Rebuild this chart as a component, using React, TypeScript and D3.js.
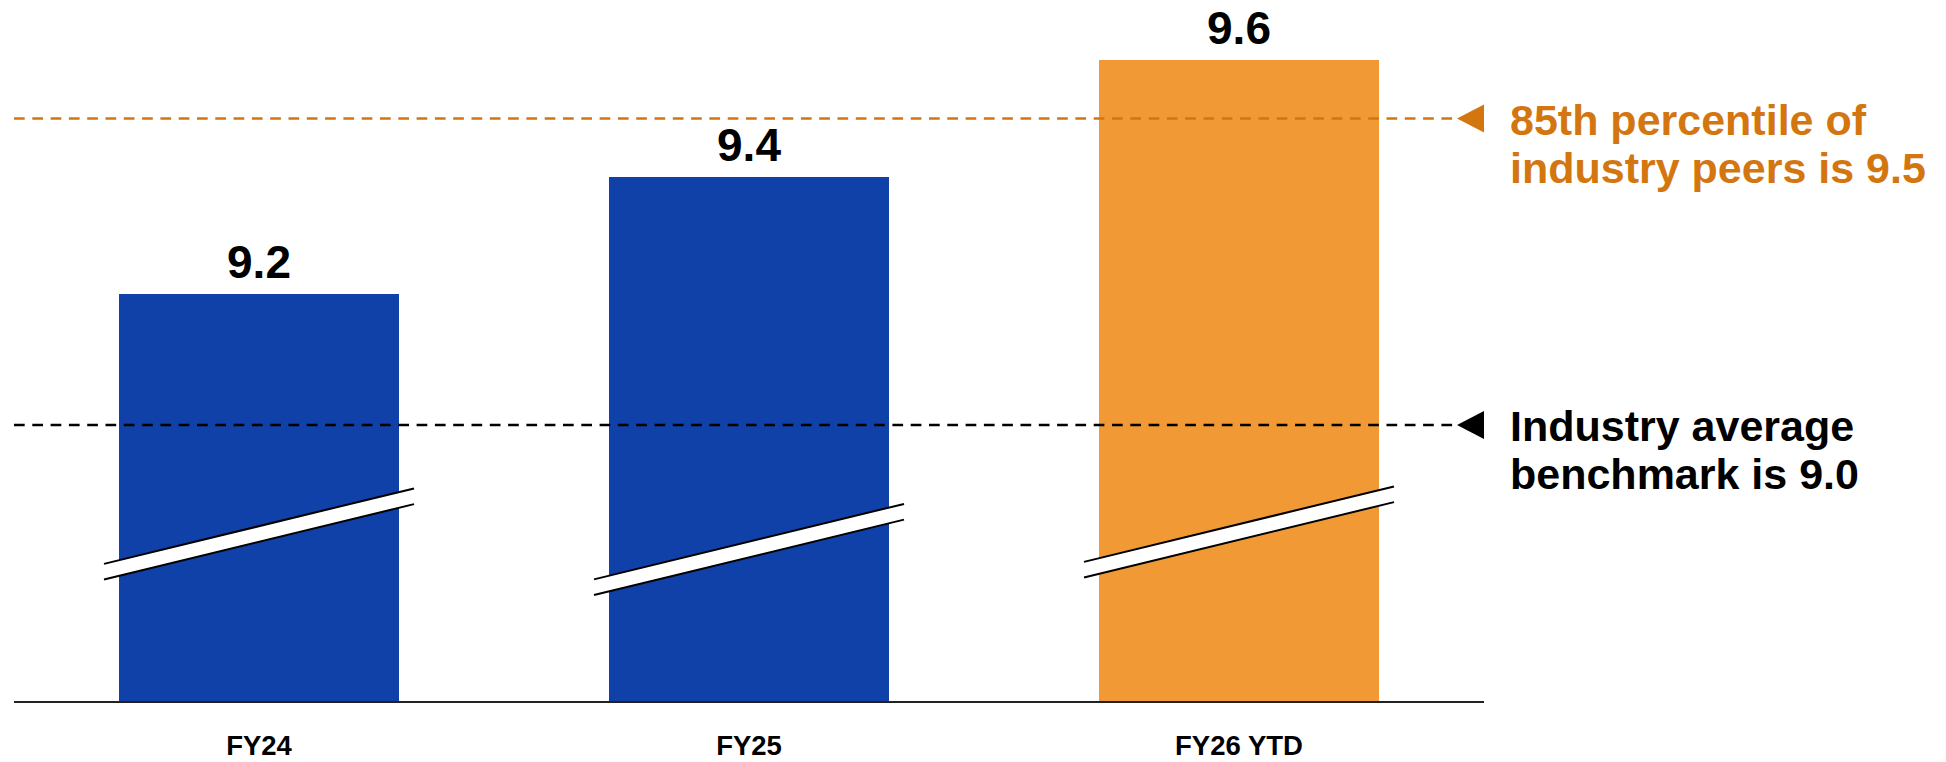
import React from "react";
import * as d3 from "d3";

const categories = ["FY24", "FY25", "FY26 YTD"];
const values = [9.2, 9.4, 9.6];
const valueLabels = ["9.2", "9.4", "9.6"];
const highlight = [false, false, true];

const refValues = [9.5, 9.0];
const refLabels = [
  ["85th percentile of", "industry peers is 9.5"],
  ["Industry average", "benchmark is 9.0"],
];

// layout / style
const W = 1946;
const H = 762;
const BASE_Y = 702;
const X0 = 14;
const X1 = 1484;
const BREAK_Y = [534, 549.5, 532];
const BLUE = "#0F41A8";
const ORANGE = "#F19A35";
const ORANGE_TEXT = "#D4760F";
const REF_COLORS = [ORANGE_TEXT, "#000000"];
const FONT = "'Liberation Sans', Arial, Helvetica, sans-serif";

export default function App() {
  const x = d3
    .scaleBand<string>()
    .domain(categories)
    .range([X0, X1])
    .paddingInner(3 / 7)
    .paddingOuter(1.5 / 7);

  // broken value axis (piecewise linear)
  const y = d3.scaleLinear().domain([9.0, 9.2, 9.6]).range([425, 294, 60]);

  const bw = x.bandwidth();
  const slope = -75.3 / 309.3;
  const halfGap = 7.85;
  const ext = 15;

  const tipX = 1457;
  const arrowW = 27;
  const arrowH = 14;
  const textX = 1510;

  return (
    <svg
      width={W}
      height={H}
      viewBox={`0 0 ${W} ${H}`}
      style={{ position: "absolute", left: 0, top: 0, display: "block", background: "#fff" }}
      fontFamily={FONT}
    >
      {/* bars */}
      {categories.map((c, i) => (
        <rect
          key={c}
          x={x(c)}
          y={y(values[i])}
          width={bw}
          height={BASE_Y - y(values[i])}
          fill={highlight[i] ? ORANGE : BLUE}
        />
      ))}

      {/* reference lines */}
      {refValues.map((v, i) => {
        const yy = y(v);
        return (
          <g key={i}>
            <line
              x1={X0}
              x2={tipX}
              y1={yy}
              y2={yy}
              stroke={REF_COLORS[i]}
              strokeWidth={2.6}
              strokeDasharray="10.7 7.6"
            />
            <path
              d={`M${tipX},${yy} L${tipX + arrowW},${yy - arrowH} L${tipX + arrowW},${yy + arrowH} Z`}
              fill={REF_COLORS[i]}
            />
            <text
              x={textX}
              y={yy + 16}
              fill={REF_COLORS[i]}
              fontSize={43}
              fontWeight={700}
            >
              <tspan x={textX}>{refLabels[i][0]}</tspan>
              <tspan x={textX} dy={48.4}>
                {refLabels[i][1]}
              </tspan>
            </text>
          </g>
        );
      })}

      {/* axis breaks */}
      {categories.map((c, i) => {
        const bx0 = (x(c) as number) - ext;
        const bx1 = (x(c) as number) + bw + ext;
        const cx = (x(c) as number) + bw / 2;
        const yc = BREAK_Y[i];
        const yAt = (xx: number) => yc + slope * (xx - cx);
        const poly = `M${bx0},${yAt(bx0) - halfGap} L${bx1},${yAt(bx1) - halfGap} L${bx1},${yAt(bx1) + halfGap} L${bx0},${yAt(bx0) + halfGap} Z`;
        return (
          <g key={"b" + c}>
            <path d={poly} fill="#fff" />
            <line x1={bx0} y1={yAt(bx0) - halfGap} x2={bx1} y2={yAt(bx1) - halfGap} stroke="#000" strokeWidth={2} />
            <line x1={bx0} y1={yAt(bx0) + halfGap} x2={bx1} y2={yAt(bx1) + halfGap} stroke="#000" strokeWidth={2} />
          </g>
        );
      })}

      {/* baseline */}
      <line x1={X0} x2={X1} y1={BASE_Y} y2={BASE_Y} stroke="#222" strokeWidth={2} />

      {/* value labels */}
      {categories.map((c, i) => (
        <text
          key={"v" + c}
          x={(x(c) as number) + bw / 2}
          y={y(values[i]) - 16.5}
          textAnchor="middle"
          fontSize={46}
          fontWeight={700}
          fill="#000"
        >
          {valueLabels[i]}
        </text>
      ))}

      {/* category labels */}
      {categories.map((c) => (
        <text
          key={"c" + c}
          x={(x(c) as number) + bw / 2}
          y={755}
          textAnchor="middle"
          fontSize={27.5}
          fontWeight={700}
          fill="#000"
        >
          {c}
        </text>
      ))}
    </svg>
  );
}
